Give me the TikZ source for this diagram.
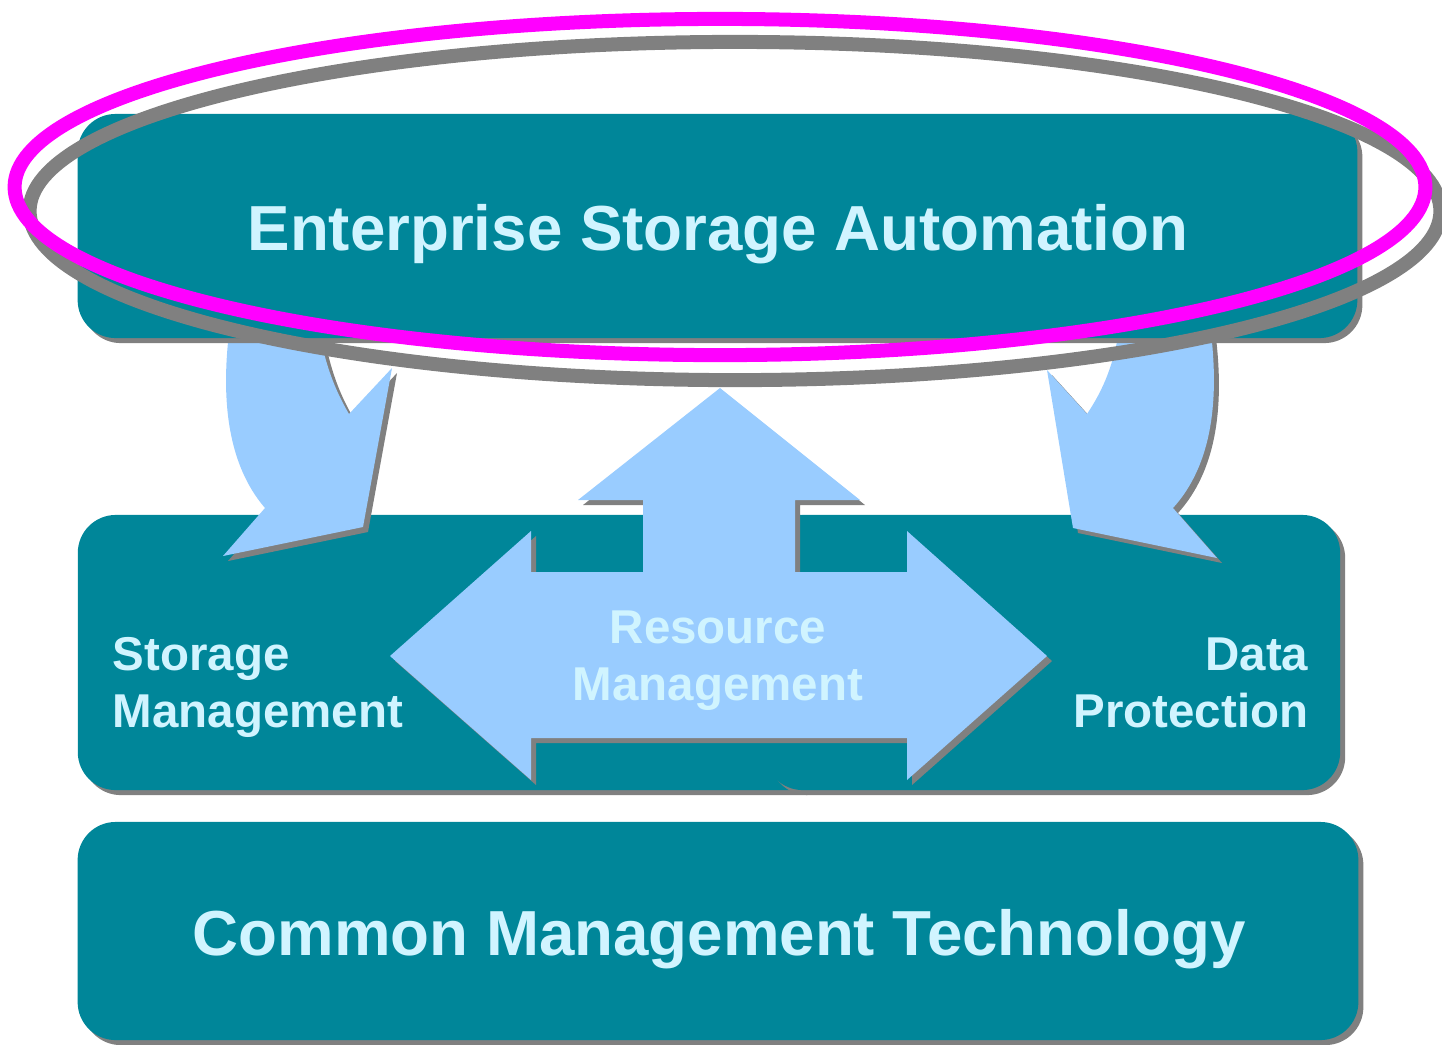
\documentclass[tikz,border=0pt]{standalone}
\usepackage{fontspec}
\setmainfont{Liberation Sans}
\usetikzlibrary{shadows}
\definecolor{boxteal}{RGB}{0,134,153}
\definecolor{arrowblue}{RGB}{153,204,255}
\definecolor{lighttext}{RGB}{208,244,255}
\definecolor{shadowgray}{RGB}{128,128,128}
\definecolor{ringmagenta}{RGB}{255,0,255}
\begin{document}
\begin{tikzpicture}[x=0.01cm,y=-0.01cm,
  shad/.style={drop shadow={shadow xshift=0.05cm,shadow yshift=-0.05cm,fill=shadowgray,opacity=1}},
  panel/.style={draw=none,fill=boxteal,rounded corners=0.38cm,shad,inner sep=0pt},
  flow/.style={fill=arrowblue,shad},
  bigtext/.style={text=lighttext,font=\bfseries\fontsize{18.1}{21.7}\selectfont,inner sep=0pt},
  midtext/.style={text=lighttext,font=\bfseries\fontsize{13.5}{16.2}\selectfont,inner sep=0pt},
  ring/.style={line width=0.14cm}]
\useasboundingbox (0,0) rectangle (1442,1044);

% middle panels
\node[panel,minimum width=7.6cm,minimum height=2.75cm] (midL) at (458,652.5) {};
\node[panel,minimum width=5.75cm,minimum height=2.75cm] (midR) at (1052.5,652.5) {};

% curved arrows
\fill[flow] (230,325) .. controls (220,400) and (228,465) .. (265,508) -- (223,556) -- (363,527) -- (392,368) -- (349,414) .. controls (335,390) and (325,365) .. (318,325) -- cycle;
\fill[flow] (1210,325) .. controls (1220,400) and (1212,465) .. (1173,508) -- (1217,558) -- (1073,528) -- (1047,370) -- (1087,414) .. controls (1103,390) and (1114,365) .. (1120,325) -- cycle;

% resource arrow
\fill[flow] (720,388) -- (860,500) -- (795,500) -- (795,572) -- (907,572) -- (907,531) -- (1047,656) -- (907,780) -- (907,738) -- (531,738) -- (531,780) -- (390,656) -- (531,531) -- (531,572) -- (643,572) -- (643,500) -- (578,500) -- cycle;

\node[midtext,align=left,anchor=west] (sm) at (112,687) {Storage\\Management};
\node[midtext,align=right,anchor=east] (dp) at (1309,683) {Data\\Protection};
\node[midtext,align=center] (rm) at (718,661) {Resource\\Management};

% top panel
\node[panel,minimum width=12.79cm,minimum height=2.24cm] (top) at (717.5,226) {};
\node[bigtext,anchor=base] (esa) at (718,250) {Enterprise Storage Automation};

% bottom panel
\node[panel,minimum width=12.8cm,minimum height=2.18cm] (bot) at (718,931) {};
\node[bigtext,anchor=base] (cmt) at (719,955) {Common Management Technology};

% highlight ring
\draw[ring,shadowgray] (735,211) ellipse [x radius=7.05cm,y radius=1.69cm];
\draw[ring,ringmagenta] (720,187) ellipse [x radius=7.05cm,y radius=1.68cm];
\end{tikzpicture}
\end{document}
